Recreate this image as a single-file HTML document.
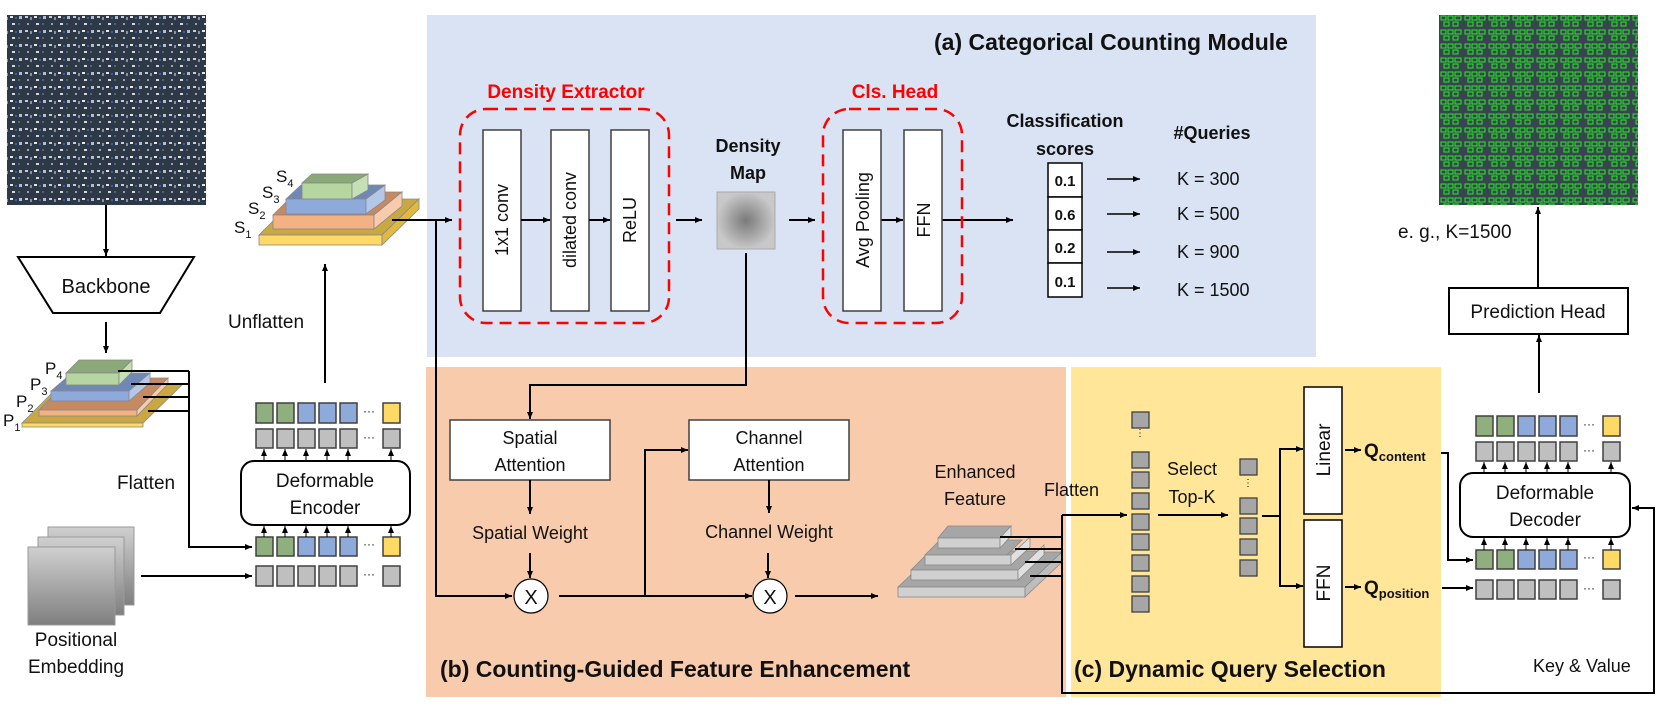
<!DOCTYPE html>
<html><head><meta charset="utf-8"><style>
html,body{margin:0;padding:0;background:#fff}
svg{display:block}
text{font-family:"Liberation Sans",sans-serif;fill:#111}
.b{font-weight:bold}
</style></head><body>
<svg width="1661" height="710" viewBox="0 0 1661 710" xmlns="http://www.w3.org/2000/svg">
<defs>
<marker id="ar" markerWidth="8" markerHeight="8" refX="7" refY="4" orient="auto" markerUnits="userSpaceOnUse"><path d="M0,1 L7,4 L0,7 z" fill="#000"/></marker>
<radialGradient id="dm"><stop offset="0" stop-color="#7a7a7a"/><stop offset="1" stop-color="#c8c8c8"/></radialGradient>
<linearGradient id="pe" x1="0" y1="0" x2="0" y2="1"><stop offset="0" stop-color="#d0d0d0"/><stop offset="1" stop-color="#7f7f7f"/></linearGradient>
<pattern id="lot" width="24" height="14" patternUnits="userSpaceOnUse">
<rect width="24" height="14" fill="#2e3947"/>
<rect x="1" y="2" width="3" height="2" fill="#c9ccd2"/><rect x="6" y="3" width="2" height="3" fill="#8a93a3"/><rect x="10" y="2" width="3" height="2" fill="#e6e6e6"/><rect x="15" y="3" width="2" height="2" fill="#3f5ab0"/><rect x="19" y="2" width="3" height="3" fill="#b7bcc6"/>
<rect x="3" y="9" width="2" height="2" fill="#9aa2b0"/><rect x="12" y="9" width="3" height="2" fill="#d5d8dd"/><rect x="18" y="9" width="2" height="2" fill="#56627a"/>
</pattern>
<pattern id="det" width="24" height="14" patternUnits="userSpaceOnUse">
<rect width="24" height="14" fill="#3a4450"/>
<rect x="1" y="2" width="5" height="4" fill="none" stroke="#22ee22" stroke-width="1"/><rect x="8" y="2" width="5" height="4" fill="none" stroke="#22ee22" stroke-width="1"/><rect x="15" y="2" width="6" height="4" fill="none" stroke="#22ee22" stroke-width="1"/>
<rect x="4" y="8" width="5" height="4" fill="none" stroke="#22ee22" stroke-width="1"/><rect x="13" y="8" width="5" height="4" fill="none" stroke="#22ee22" stroke-width="1"/>
</pattern>
</defs>

<rect x="427" y="15" width="889" height="342" fill="#dae3f3"/>
<rect x="426" y="367" width="640" height="330" fill="#f8cbad"/>
<rect x="1071" y="367" width="370" height="330" fill="#ffe699"/>

<rect x="7" y="15" width="199" height="190" fill="url(#lot)"/>
<rect x="1439" y="15" width="199" height="190" fill="url(#det)"/>

<line x1="106" y1="205" x2="106" y2="256" stroke="#000" stroke-width="2" marker-end="url(#ar)"/>
<polygon points="18,257 194,257 160,313 53,313" fill="#fff" stroke="#000" stroke-width="2"/>
<text x="106" y="293" font-size="20" text-anchor="middle">Backbone</text>
<line x1="106" y1="322" x2="106" y2="353" stroke="#000" stroke-width="2" marker-end="url(#ar)"/>

<g stroke="#888" stroke-width="0.8">
<polygon points="22,423 61,384 183,384 143,423" fill="#c9a842"/><rect x="22" y="423" width="121" height="4" fill="#ffd966"/>
<polygon points="39,410 70,378 168,378 137,410" fill="#c68a63"/><rect x="39" y="410" width="98" height="6" fill="#f4b183"/><polygon points="137,410 168,378 168,384 137,416" fill="#f8cbad"/>
<polygon points="51,391 72,373 150,373 129,391" fill="#6f88b8"/><rect x="51" y="391" width="78" height="10" fill="#8eaadb"/><polygon points="129,391 150,373 150,383 129,401" fill="#b4c7e7"/>
<polygon points="66,373 79,360 132,360 119,373" fill="#8aa878"/><rect x="66" y="373" width="53" height="12" fill="#b5d6a0"/><polygon points="119,373 132,360 132,372 119,385" fill="#c5e0b4"/>
</g>
<text x="45" y="374" font-size="17">P<tspan font-size="11" dy="5">4</tspan></text>
<text x="30" y="390" font-size="17">P<tspan font-size="11" dy="5">3</tspan></text>
<text x="16" y="407" font-size="17">P<tspan font-size="11" dy="5">2</tspan></text>
<text x="3" y="426" font-size="17">P<tspan font-size="11" dy="5">1</tspan></text>
<g stroke="#000" stroke-width="2" fill="none">
<line x1="118" y1="371" x2="189" y2="371"/><line x1="131" y1="384" x2="189" y2="384"/><line x1="143" y1="397" x2="189" y2="397"/><line x1="148" y1="411" x2="189" y2="411"/>
<polyline points="189,371 189,547 252,547" marker-end="url(#ar)"/>
</g>
<text x="117" y="489" font-size="19">Flatten</text>

<rect x="48" y="527" width="86" height="78" fill="url(#pe)" stroke="#999"/>
<rect x="38" y="537" width="86" height="78" fill="url(#pe)" stroke="#999"/>
<rect x="28" y="547" width="87" height="78" fill="url(#pe)" stroke="#999"/>
<text x="76" y="646" font-size="19" text-anchor="middle">Positional</text>
<text x="76" y="673" font-size="19" text-anchor="middle">Embedding</text>
<line x1="141" y1="576" x2="252" y2="576" stroke="#000" stroke-width="2" marker-end="url(#ar)"/>

<g stroke="#404040" stroke-width="1.5">
<rect x="256" y="403" width="17" height="20" fill="#8faf7e"/><rect x="277" y="403" width="17" height="20" fill="#8faf7e"/><rect x="298" y="403" width="17" height="20" fill="#8eaadb"/><rect x="319" y="403" width="17" height="20" fill="#8eaadb"/><rect x="340" y="403" width="17" height="20" fill="#8eaadb"/><rect x="383" y="403" width="17" height="20" fill="#ffd966"/>
<rect x="256" y="429" width="17" height="19" fill="#bfbfbf"/><rect x="277" y="429" width="17" height="19" fill="#bfbfbf"/><rect x="298" y="429" width="17" height="19" fill="#bfbfbf"/><rect x="319" y="429" width="17" height="19" fill="#bfbfbf"/><rect x="340" y="429" width="17" height="19" fill="#bfbfbf"/><rect x="383" y="429" width="17" height="19" fill="#bfbfbf"/>
<rect x="256" y="537" width="17" height="19" fill="#8faf7e"/><rect x="277" y="537" width="17" height="19" fill="#8faf7e"/><rect x="298" y="537" width="17" height="19" fill="#8eaadb"/><rect x="319" y="537" width="17" height="19" fill="#8eaadb"/><rect x="340" y="537" width="17" height="19" fill="#8eaadb"/><rect x="383" y="537" width="17" height="19" fill="#ffd966"/>
<rect x="256" y="566" width="17" height="20" fill="#bfbfbf"/><rect x="277" y="566" width="17" height="20" fill="#bfbfbf"/><rect x="298" y="566" width="17" height="20" fill="#bfbfbf"/><rect x="319" y="566" width="17" height="20" fill="#bfbfbf"/><rect x="340" y="566" width="17" height="20" fill="#bfbfbf"/><rect x="383" y="566" width="17" height="20" fill="#bfbfbf"/>
</g>
<g font-size="12"><text x="363" y="415">···</text><text x="363" y="441">···</text><text x="363" y="548">···</text><text x="363" y="578">···</text></g>
<rect x="241" y="461" width="169" height="64" rx="13" fill="#fff" stroke="#000" stroke-width="2"/>
<text x="325" y="487" font-size="19" text-anchor="middle">Deformable</text>
<text x="325" y="514" font-size="19" text-anchor="middle">Encoder</text>
<g stroke="#000" stroke-width="1" marker-end="url(#ar)">
<line x1="264" y1="461" x2="264" y2="449"/><line x1="285" y1="461" x2="285" y2="449"/><line x1="306" y1="461" x2="306" y2="449"/><line x1="327" y1="461" x2="327" y2="449"/><line x1="348" y1="461" x2="348" y2="449"/><line x1="391" y1="461" x2="391" y2="449"/>
<line x1="264" y1="537" x2="264" y2="526"/><line x1="285" y1="537" x2="285" y2="526"/><line x1="306" y1="537" x2="306" y2="526"/><line x1="327" y1="537" x2="327" y2="526"/><line x1="348" y1="537" x2="348" y2="526"/><line x1="391" y1="537" x2="391" y2="526"/>
</g>
<line x1="325" y1="383" x2="325" y2="264" stroke="#000" stroke-width="2" marker-end="url(#ar)"/>
<text x="228" y="328" font-size="19">Unflatten</text>

<g stroke="#888" stroke-width="0.8">
<polygon points="259,235 295,199 419,199 382,235" fill="#c9a842"/><rect x="259" y="235" width="123" height="10" fill="#ffd966"/><polygon points="382,235 419,199 419,209 382,245" fill="#e2b93f"/>
<polygon points="273,215 296,192 402,192 374,215" fill="#c68a63"/><rect x="273" y="215" width="101" height="14" fill="#f4b183"/><polygon points="374,215 402,192 402,206 374,229" fill="#f8cbad"/>
<polygon points="286,199 301,185 385,185 366,199" fill="#6f88b8"/><rect x="286" y="199" width="80" height="15" fill="#8eaadb"/><polygon points="366,199 385,185 385,200 366,214" fill="#b4c7e7"/>
<polygon points="302,183 312,174 368,174 352,183" fill="#8aa878"/><rect x="302" y="183" width="50" height="16" fill="#b5d6a0"/><polygon points="352,183 368,174 368,190 352,199" fill="#c5e0b4"/>
</g>
<text x="276" y="182" font-size="17">S<tspan font-size="11" dy="5">4</tspan></text>
<text x="262" y="198" font-size="17">S<tspan font-size="11" dy="5">3</tspan></text>
<text x="248" y="214" font-size="17">S<tspan font-size="11" dy="5">2</tspan></text>
<text x="234" y="233" font-size="17">S<tspan font-size="11" dy="5">1</tspan></text>

<line x1="392" y1="220" x2="452" y2="220" stroke="#000" stroke-width="2" marker-end="url(#ar)"/>
<polyline points="436,220 436,596 512,596" fill="none" stroke="#000" stroke-width="2" marker-end="url(#ar)"/>

<text x="1111" y="50" font-size="23" class="b" text-anchor="middle">(a) Categorical Counting Module</text>
<text x="566" y="98" font-size="19" class="b" text-anchor="middle" style="fill:#ff0000">Density Extractor</text>
<rect x="460" y="109" width="209" height="214" rx="26" fill="none" stroke="#ff0000" stroke-width="2.5" stroke-dasharray="12,7"/>
<g fill="#fff" stroke="#404040" stroke-width="1.5">
<rect x="483" y="130" width="38" height="181"/><rect x="551" y="130" width="38" height="181"/><rect x="611" y="130" width="38" height="181"/>
</g>
<g font-size="18" text-anchor="middle">
<text transform="translate(508,220) rotate(-90)">1x1 conv</text>
<text transform="translate(576,220) rotate(-90)">dilated conv</text>
<text transform="translate(636,220) rotate(-90)">ReLU</text>
</g>
<g stroke="#000" stroke-width="2" marker-end="url(#ar)">
<line x1="521" y1="220" x2="550" y2="220"/><line x1="589" y1="220" x2="610" y2="220"/>
<line x1="676" y1="220" x2="702" y2="220"/><line x1="789" y1="220" x2="815" y2="220"/>
<line x1="881" y1="220" x2="903" y2="220"/><line x1="942" y1="220" x2="1013" y2="220"/>
</g>
<text x="748" y="152" font-size="18" class="b" text-anchor="middle">Density</text>
<text x="748" y="179" font-size="18" class="b" text-anchor="middle">Map</text>
<rect x="717" y="192" width="58" height="57" fill="url(#dm)" stroke="#aaa"/>
<text x="895" y="98" font-size="19" class="b" text-anchor="middle" style="fill:#ff0000">Cls. Head</text>
<rect x="823" y="109" width="139" height="214" rx="26" fill="none" stroke="#ff0000" stroke-width="2.5" stroke-dasharray="12,7"/>
<rect x="843" y="130" width="38" height="181" fill="#fff" stroke="#404040" stroke-width="1.5"/>
<rect x="904" y="130" width="38" height="181" fill="#fff" stroke="#404040" stroke-width="1.5"/>
<text transform="translate(869,220) rotate(-90)" font-size="18" text-anchor="middle">Avg Pooling</text>
<text transform="translate(930,220) rotate(-90)" font-size="18" text-anchor="middle">FFN</text>
<text x="1065" y="127" font-size="18" class="b" text-anchor="middle">Classification</text>
<text x="1065" y="155" font-size="18" class="b" text-anchor="middle">scores</text>
<text x="1212" y="139" font-size="18" class="b" text-anchor="middle">#Queries</text>
<g fill="#fff" stroke="#000" stroke-width="1.5">
<rect x="1048" y="163" width="34" height="34"/><rect x="1048" y="197" width="34" height="33"/><rect x="1048" y="230" width="34" height="33"/><rect x="1048" y="263" width="34" height="34"/>
</g>
<g font-size="15" class="b" text-anchor="middle"><text x="1065" y="186">0.1</text><text x="1065" y="220">0.6</text><text x="1065" y="253">0.2</text><text x="1065" y="287">0.1</text></g>
<g stroke="#000" stroke-width="1.5" marker-end="url(#ar)">
<line x1="1107" y1="179" x2="1140" y2="179"/><line x1="1107" y1="214" x2="1140" y2="214"/><line x1="1107" y1="252" x2="1140" y2="252"/><line x1="1107" y1="288" x2="1140" y2="288"/>
</g>
<g font-size="18"><text x="1177" y="185">K = 300</text><text x="1177" y="220">K = 500</text><text x="1177" y="258">K = 900</text><text x="1177" y="296">K = 1500</text></g>

<polyline points="746,253 746,385 530,385 530,419" fill="none" stroke="#000" stroke-width="2" marker-end="url(#ar)"/>
<rect x="450" y="420" width="160" height="60" fill="#fff" stroke="#404040" stroke-width="1.5"/>
<rect x="689" y="420" width="160" height="60" fill="#fff" stroke="#404040" stroke-width="1.5"/>
<g font-size="18" text-anchor="middle">
<text x="530" y="444">Spatial</text><text x="530" y="471">Attention</text>
<text x="769" y="444">Channel</text><text x="769" y="471">Attention</text>
<text x="530" y="539">Spatial Weight</text><text x="769" y="538">Channel Weight</text>
</g>
<g stroke="#000" stroke-width="2" fill="none" marker-end="url(#ar)">
<line x1="530" y1="480" x2="530" y2="514"/><line x1="769" y1="480" x2="769" y2="513"/>
<line x1="530" y1="553" x2="530" y2="578"/><line x1="768" y1="553" x2="768" y2="578"/>
<line x1="559" y1="596" x2="752" y2="596"/>
<polyline points="645,596 645,450 688,450"/>
<line x1="795" y1="596" x2="878" y2="596"/>
</g>
<circle cx="531" cy="596" r="17" fill="#fff" stroke="#000" stroke-width="1.2"/>
<circle cx="770" cy="596" r="17" fill="#fff" stroke="#000" stroke-width="1.2"/>
<text x="531" y="604" font-size="20" text-anchor="middle">X</text>
<text x="770" y="604" font-size="20" text-anchor="middle">X</text>
<text x="440" y="677" font-size="23" class="b">(b) Counting-Guided Feature Enhancement</text>
<text x="975" y="478" font-size="18" text-anchor="middle">Enhanced</text>
<text x="975" y="505" font-size="18" text-anchor="middle">Feature</text>
<g stroke="#888" stroke-width="0.8">
<polygon points="898,587 935,552 1062,552 1025,587" fill="#a6a6a6"/><rect x="898" y="587" width="127" height="10" fill="#d0d0d0"/><polygon points="1025,587 1062,552 1062,562 1025,597" fill="#bdbdbd"/>
<polygon points="911,570 930,551 1044,551 1025,570" fill="#a6a6a6"/><rect x="911" y="570" width="107" height="10" fill="#d0d0d0"/><polygon points="1018,570 1044,545 1044,555 1018,580" fill="#e0e0e0"/>
<polygon points="925,555 940,540 1022,540 1007,555" fill="#a6a6a6"/><rect x="925" y="555" width="86" height="10" fill="#d0d0d0"/><polygon points="1011,555 1030,537 1030,547 1011,565" fill="#e0e0e0"/>
<polygon points="938,538 948,526 1011,526 1000,538" fill="#a6a6a6"/><rect x="938" y="538" width="62" height="10" fill="#d0d0d0"/><polygon points="1000,538 1011,526 1011,536 1000,548" fill="#e0e0e0"/>
</g>
<g stroke="#000" stroke-width="2" fill="none">
<line x1="1000" y1="537" x2="1062" y2="537"/><line x1="1015" y1="549" x2="1062" y2="549"/><line x1="1025" y1="562" x2="1062" y2="562"/><line x1="1030" y1="576" x2="1062" y2="576"/>
<polyline points="1062,515 1062,693 1654,693 1654,508 1632,508" marker-end="url(#ar)"/>
<line x1="1062" y1="515" x2="1127" y2="515" marker-end="url(#ar)"/>
<line x1="1158" y1="515" x2="1228" y2="515" marker-end="url(#ar)"/>
<line x1="1262" y1="516" x2="1280" y2="516"/>
<polyline points="1280,516 1280,449 1303,449" marker-end="url(#ar)"/>
<polyline points="1280,516 1280,586 1303,586" marker-end="url(#ar)"/>
</g>
<text x="1044" y="496" font-size="18">Flatten</text>

<g fill="#a6a6a6" stroke="#404040" stroke-width="1.3">
<rect x="1132" y="412" width="17" height="16"/>
<rect x="1132" y="452" width="17" height="16"/><rect x="1132" y="472" width="17" height="16"/><rect x="1132" y="493" width="17" height="16"/><rect x="1132" y="514" width="17" height="16"/><rect x="1132" y="534" width="17" height="16"/><rect x="1132" y="555" width="17" height="16"/><rect x="1132" y="576" width="17" height="16"/><rect x="1132" y="596" width="17" height="16"/>
<rect x="1240" y="459" width="17" height="16"/>
<rect x="1240" y="498" width="17" height="16"/><rect x="1240" y="518" width="17" height="16"/><rect x="1240" y="539" width="17" height="16"/><rect x="1240" y="560" width="17" height="16"/>
</g>
<g font-size="10" text-anchor="middle"><text x="1140" y="436">⋮</text><text x="1248" y="486">⋮</text></g>
<text x="1192" y="475" font-size="18" text-anchor="middle">Select</text>
<text x="1192" y="503" font-size="18" text-anchor="middle">Top-K</text>
<rect x="1304" y="387" width="38" height="127" fill="#fff" stroke="#000" stroke-width="1.5"/>
<rect x="1304" y="520" width="38" height="127" fill="#fff" stroke="#000" stroke-width="1.5"/>
<text transform="translate(1330,450) rotate(-90)" font-size="19" text-anchor="middle">Linear</text>
<text transform="translate(1330,583) rotate(-90)" font-size="19" text-anchor="middle">FFN</text>
<g stroke="#000" stroke-width="2" marker-end="url(#ar)">
<line x1="1345" y1="450" x2="1361" y2="450"/><line x1="1345" y1="587" x2="1361" y2="587"/>
</g>
<text x="1364" y="457" font-size="19" class="b">Q<tspan font-size="13" dy="4">content</tspan></text>
<text x="1364" y="594" font-size="19" class="b">Q<tspan font-size="13" dy="4">position</tspan></text>
<text x="1074" y="677" font-size="23" class="b">(c) Dynamic Query Selection</text>
<g stroke="#000" stroke-width="2" fill="none" marker-end="url(#ar)">
<polyline points="1441,453 1448,453 1448,560 1473,560"/>
<line x1="1442" y1="588" x2="1473" y2="588"/>
</g>

<g stroke="#404040" stroke-width="1.5">
<rect x="1476" y="416" width="17" height="20" fill="#8faf7e"/><rect x="1497" y="416" width="17" height="20" fill="#8faf7e"/><rect x="1518" y="416" width="17" height="20" fill="#8eaadb"/><rect x="1539" y="416" width="17" height="20" fill="#8eaadb"/><rect x="1560" y="416" width="17" height="20" fill="#8eaadb"/><rect x="1603" y="416" width="17" height="20" fill="#ffd966"/>
<rect x="1476" y="442" width="17" height="19" fill="#bfbfbf"/><rect x="1497" y="442" width="17" height="19" fill="#bfbfbf"/><rect x="1518" y="442" width="17" height="19" fill="#bfbfbf"/><rect x="1539" y="442" width="17" height="19" fill="#bfbfbf"/><rect x="1560" y="442" width="17" height="19" fill="#bfbfbf"/><rect x="1603" y="442" width="17" height="19" fill="#bfbfbf"/>
<rect x="1476" y="550" width="17" height="19" fill="#8faf7e"/><rect x="1497" y="550" width="17" height="19" fill="#8faf7e"/><rect x="1518" y="550" width="17" height="19" fill="#8eaadb"/><rect x="1539" y="550" width="17" height="19" fill="#8eaadb"/><rect x="1560" y="550" width="17" height="19" fill="#8eaadb"/><rect x="1603" y="550" width="17" height="19" fill="#ffd966"/>
<rect x="1476" y="580" width="17" height="19" fill="#bfbfbf"/><rect x="1497" y="580" width="17" height="19" fill="#bfbfbf"/><rect x="1518" y="580" width="17" height="19" fill="#bfbfbf"/><rect x="1539" y="580" width="17" height="19" fill="#bfbfbf"/><rect x="1560" y="580" width="17" height="19" fill="#bfbfbf"/><rect x="1603" y="580" width="17" height="19" fill="#bfbfbf"/>
</g>
<g font-size="12"><text x="1583" y="428">···</text><text x="1583" y="454">···</text><text x="1583" y="561">···</text><text x="1583" y="592">···</text></g>
<rect x="1460" y="473" width="170" height="64" rx="13" fill="#fff" stroke="#000" stroke-width="2"/>
<text x="1545" y="499" font-size="19" text-anchor="middle">Deformable</text>
<text x="1545" y="526" font-size="19" text-anchor="middle">Decoder</text>
<g stroke="#000" stroke-width="1" marker-end="url(#ar)">
<line x1="1484" y1="473" x2="1484" y2="462"/><line x1="1505" y1="473" x2="1505" y2="462"/><line x1="1526" y1="473" x2="1526" y2="462"/><line x1="1547" y1="473" x2="1547" y2="462"/><line x1="1568" y1="473" x2="1568" y2="462"/><line x1="1611" y1="473" x2="1611" y2="462"/>
<line x1="1484" y1="550" x2="1484" y2="538"/><line x1="1505" y1="550" x2="1505" y2="538"/><line x1="1526" y1="550" x2="1526" y2="538"/><line x1="1547" y1="550" x2="1547" y2="538"/><line x1="1568" y1="550" x2="1568" y2="538"/><line x1="1611" y1="550" x2="1611" y2="538"/>
</g>
<text x="1533" y="672" font-size="18">Key &amp; Value</text>

<line x1="1539" y1="393" x2="1539" y2="335" stroke="#000" stroke-width="2" marker-end="url(#ar)"/>
<rect x="1449" y="288" width="179" height="46" fill="#fff" stroke="#000" stroke-width="2"/>
<text x="1538" y="318" font-size="19" text-anchor="middle">Prediction Head</text>
<line x1="1538" y1="287" x2="1538" y2="207" stroke="#000" stroke-width="2" marker-end="url(#ar)"/>
<text x="1398" y="238" font-size="19">e. g., K=1500</text>
</svg>
</body></html>
